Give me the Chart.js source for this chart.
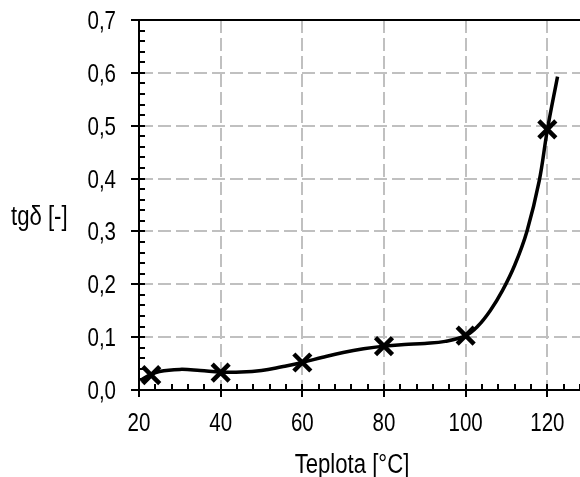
<!DOCTYPE html>
<html>
<head>
<meta charset="utf-8">
<script src="https://cdn.jsdelivr.net/npm/chart.js@4.4.1/dist/chart.umd.min.js"></script>
<style>
  html, body { margin: 0; padding: 0; background: #ffffff; }
  #wrap { width: 580px; height: 477px; }
</style>
</head>
<body>
<div id="wrap"><canvas id="c" width="580" height="477"></canvas></div>
<script>
// Measured loss factor at each temperature
const tempC = [23, 40, 60, 80, 100, 120];
const tanDelta = [0.028, 0.033, 0.052, 0.083, 0.103, 0.493];

// Fitted trend curve through the measurements
const trendX = [20.3, 22, 25, 30, 35, 40, 45, 50, 55, 60, 65, 70, 75, 80, 85, 90, 95, 100, 103, 106, 109, 112, 115, 118, 120, 122.5];
const trendY = [0.018, 0.026, 0.035, 0.039, 0.037, 0.034, 0.034, 0.037, 0.044, 0.052, 0.062, 0.071, 0.078, 0.083, 0.086, 0.088, 0.092, 0.103, 0.121, 0.150, 0.188, 0.236, 0.300, 0.395, 0.492, 0.593];

// Axis ticks
const xTicks = [20, 40, 60, 80, 100, 120];
const yTicks = [0, 0.1, 0.2, 0.3, 0.4, 0.5, 0.6, 0.7];
const xMinorStep = 4;
const yMinorStep = 0.02;

const xTitle = 'Teplota [°C]';
const yTitle = 'tgδ [-]';

const FONT = "'Liberation Sans', Arial, sans-serif";
const NARROW = 0.82; // horizontal squeeze for a condensed face

function narrowText(ctx, text, x, y, size, align) {
  ctx.save();
  ctx.font = size + 'px ' + FONT;
  ctx.textAlign = align;
  ctx.textBaseline = 'alphabetic';
  ctx.translate(x, y);
  ctx.scale(NARROW, 1);
  ctx.fillText(text, 0, 0);
  ctx.restore();
}

const frame = {
  id: 'frame',
  afterDatasetsDraw(chart) {
    const ctx = chart.ctx;
    const a = chart.chartArea;
    const xs = chart.scales.x, ys = chart.scales.y;
    ctx.save();
    ctx.strokeStyle = '#000';
    ctx.lineWidth = 2;
    ctx.setLineDash([]);
    ctx.beginPath();
    // top border
    ctx.moveTo(a.left, a.top);
    ctx.lineTo(a.right, a.top);
    // minor ticks on the x axis, pointing inward
    for (let v = xs.min; v <= xs.max + 1e-9; v += xMinorStep) {
      const px = Math.round(xs.getPixelForValue(v));
      ctx.moveTo(px, a.bottom);
      ctx.lineTo(px, a.bottom - 6);
    }
    // minor ticks on the y axis, pointing inward
    const n = Math.round((ys.max - ys.min) / yMinorStep);
    for (let i = 0; i <= n; i++) {
      const py = Math.round(ys.getPixelForValue(ys.min + i * yMinorStep));
      ctx.moveTo(a.left, py);
      ctx.lineTo(a.left + 6, py);
    }
    ctx.stroke();
    ctx.restore();

    // tick labels
    ctx.save();
    ctx.fillStyle = '#000';
    xTicks.forEach(v => {
      narrowText(ctx, String(v), xs.getPixelForValue(v), a.bottom + 41, 25, 'center');
    });
    yTicks.forEach(v => {
      narrowText(ctx, v.toFixed(1).replace('.', ','), a.left - 23, ys.getPixelForValue(v) + 9, 25, 'right');
    });
    // axis titles
    narrowText(ctx, yTitle, 11, 225, 27, 'left');
    narrowText(ctx, xTitle, 352, 473, 27, 'center');
    ctx.restore();
  }
};

new Chart(document.getElementById('c'), {
  type: 'scatter',
  data: {
    datasets: [
      {
        label: 'trend',
        data: trendX.map((x, i) => ({ x: x, y: trendY[i] })),
        showLine: true,
        borderColor: '#000',
        borderWidth: 3.5,
        pointRadius: 0,
        tension: 0.4,
        order: 2
      },
      {
        label: 'tgδ',
        data: tempC.map((x, i) => ({ x: x, y: tanDelta[i] })),
        showLine: false,
        pointStyle: 'crossRot',
        pointRadius: 12,
        pointBorderWidth: 4.5,
        borderColor: '#000',
        backgroundColor: '#000',
        order: 1
      }
    ]
  },
  plugins: [frame],
  options: {
    responsive: false,
    animation: false,
    devicePixelRatio: 1,
    layout: { autoPadding: false, padding: { top: 20, right: 0, bottom: 0, left: 0 } },
    plugins: { legend: { display: false }, tooltip: { enabled: false } },
    scales: {
      x: {
        type: 'linear',
        min: 20,
        max: 128,
        afterBuildTicks: s => { s.ticks = xTicks.map(v => ({ value: v })); },
        afterFit: s => { s.height = 87; },
        ticks: { display: false },
        grid: {
          color: ctx => (ctx.tick && ctx.tick.value === 20 ? 'rgba(0,0,0,0)' : '#c0c0c0'),
          lineWidth: 2,
          tickColor: '#000',
          tickWidth: 2,
          tickLength: 7
        },
        border: { color: '#000', width: 2, dash: [13, 5] }
      },
      y: {
        type: 'linear',
        min: 0,
        max: 0.7,
        afterBuildTicks: s => { s.ticks = yTicks.map(v => ({ value: v })); },
        afterFit: s => { s.width = 139; },
        ticks: { display: false },
        grid: {
          color: ctx => (ctx.tick && (ctx.tick.value === 0 || ctx.tick.value > 0.65) ? 'rgba(0,0,0,0)' : '#c0c0c0'),
          lineWidth: 2,
          tickColor: '#000',
          tickWidth: 2,
          tickLength: 8
        },
        border: { color: '#000', width: 2, dash: [13, 5] }
      }
    }
  }
});
</script>
</body>
</html>
